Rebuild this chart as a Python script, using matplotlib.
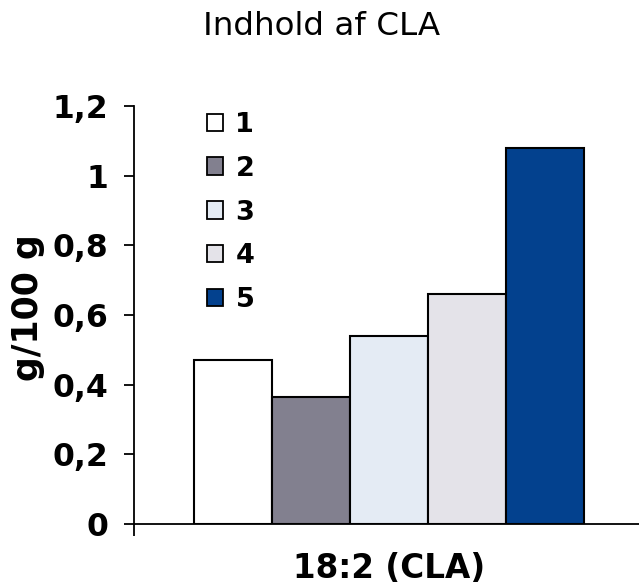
import matplotlib.pyplot as plt
from matplotlib.patches import Patch
from matplotlib.ticker import FuncFormatter

# Data
groups = ['1', '2', '3', '4', '5']
values = [0.47, 0.365, 0.54, 0.66, 1.08]
colors = ['#ffffff', '#82808f', '#e4ebf4', '#e4e3e9', '#03418e']
category = '18:2 (CLA)'

fig = plt.figure(figsize=(6.39, 5.87), dpi=100)
ax = fig.add_axes([0.2097, 0.1073, 0.7903, 0.7121])

x = list(range(len(groups)))
ax.bar(x, values, width=1.0, color=colors, edgecolor='black', linewidth=1.5)

ax.set_ylim(0, 1.2)
ax.set_xlim(-1.27, 5.2)
ax.set_yticks([0, 0.2, 0.4, 0.6, 0.8, 1.0, 1.2])
ax.yaxis.set_major_formatter(
    FuncFormatter(lambda v, p: ('%g' % round(v, 1)).replace('.', ',')))
ax.tick_params(axis='y', length=7.5, width=1.3, pad=11, labelsize=22.7)
for t in ax.get_yticklabels():
    t.set_fontweight('bold')

# Category label in the middle, small tick at the left edge
ax.set_xticks([2])
ax.set_xticklabels([category], fontsize=23.5, fontweight='bold')
ax.tick_params(axis='x', which='major', length=0, pad=20)
ax.set_xticks([-1.27], minor=True)
ax.tick_params(axis='x', which='minor', length=8.5, width=1.3)

for s in ['top', 'right']:
    ax.spines[s].set_visible(False)
ax.spines['left'].set_linewidth(1.3)
ax.spines['bottom'].set_linewidth(1.3)

ax.set_ylabel('g/100 g', fontsize=25, fontweight='bold')
ax.yaxis.set_label_coords(-0.176, 0.517)

fig.text(0.504, 0.9404, 'Indhold af CLA', ha='center', va='baseline',
         fontsize=23.4)

handles = [Patch(facecolor=c, edgecolor='black', linewidth=1.3)
           for c in colors]
leg = fig.legend(handles, groups, loc='upper left',
                 bbox_to_anchor=(0.324, 0.8096), frameon=False,
                 prop={'size': 19.5, 'weight': 'bold'},
                 handlelength=0.6, handleheight=0.6, handletextpad=0.45,
                 labelspacing=0.66, borderpad=0, borderaxespad=0)

plt.savefig('out.png', dpi=100)
